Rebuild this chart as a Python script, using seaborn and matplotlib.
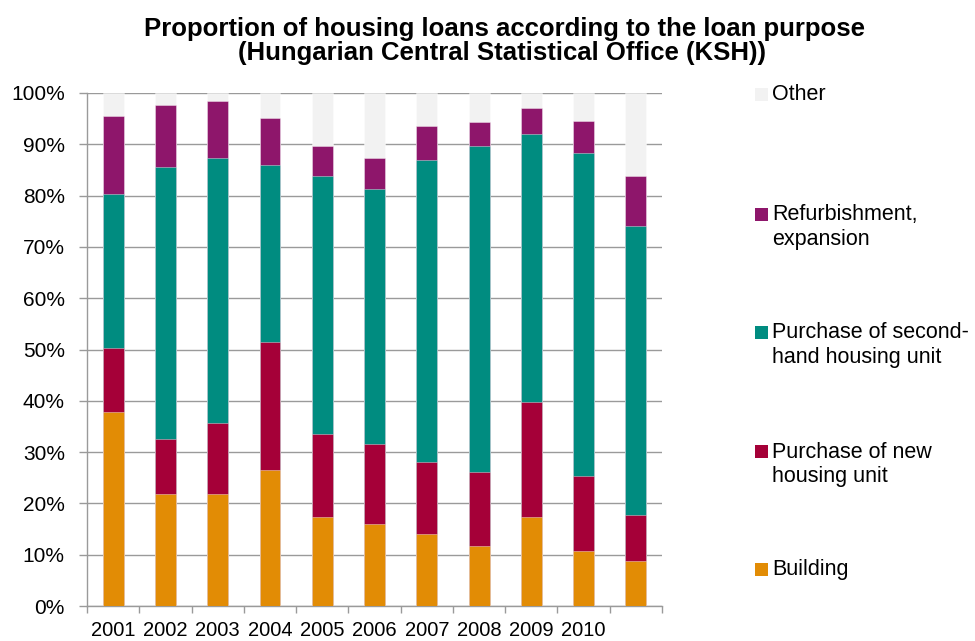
import matplotlib
matplotlib.use("Agg")
import matplotlib.pyplot as plt
from matplotlib.patches import Rectangle
from matplotlib.ticker import FuncFormatter, FixedLocator
import numpy as np
import pandas as pd
import seaborn as sns

# Share of housing loans by purpose (%), one value per bar
periods = ["2001", "2002", "2003", "2004", "2005", "2006",
           "2007", "2008", "2009", "2010", "2011"]
tick_labels = ["2001", "2002", "2003", "2004", "2005", "2006",
               "2007", "2008", "2009", "2010", ""]

building = [37.8, 21.8, 21.8, 26.6, 17.4, 16.0, 14.0, 11.6, 17.4, 10.8, 8.8]
new_unit = [12.5, 10.7, 13.8, 24.9, 16.2, 15.6, 14.1, 14.6, 22.3, 14.6, 9.0]
second_hand = [30.1, 53.0, 51.8, 34.5, 50.3, 49.6, 58.9, 63.4, 52.4, 62.9, 56.3]
refurbishment = [15.2, 12.1, 11.0, 9.1, 5.8, 6.2, 6.6, 4.8, 5.0, 6.3, 9.7]
other = [4.4, 2.4, 1.6, 4.9, 10.3, 12.6, 6.4, 5.6, 2.9, 5.4, 16.2]

series_names = ["Building", "Purchase of new\nhousing unit",
                "Purchase of second-\nhand housing unit",
                "Refurbishment,\nexpansion", "Other"]
series_values = [building, new_unit, second_hand, refurbishment, other]
series_colors = ["#E28C05", "#A50038", "#008C80", "#8E166B", "#F2F2F2"]

title_lines = ["Proportion of housing loans according to the loan purpose",
               "(Hungarian Central Statistical Office (KSH))"]

sns.set_theme(style="white")
plt.rcParams["font.family"] = ["Liberation Sans", "DejaVu Sans"]

W, H = 975, 641
fig = plt.figure(figsize=(W / 100, H / 100), dpi=100)
ax = fig.add_axes([87 / W, 1 - 606 / H, (662 - 87) / W, (606 - 93) / H])

# stacked bars: draw the cumulative totals from the top series down
df = pd.DataFrame({"period": periods})
cum = np.zeros(len(periods))
cums = []
for vals in series_values:
    cum = cum + np.array(vals)
    cums.append(cum.copy())

for name, color, top in reversed(list(zip(series_names, series_colors, cums))):
    df["top"] = top
    sns.barplot(data=df, x="period", y="top", order=periods, color=color,
                width=0.4, saturation=1, edgecolor=(1, 1, 1, 0.45),
                linewidth=0.6, ax=ax, zorder=3)

ax.set_xlim(-0.5, len(periods) - 0.5)
ax.set_ylim(0, 100)
ax.set_xlabel("")
ax.set_ylabel("")

# y axis: percent labels, gridlines every 10%
ax.set_yticks(np.arange(0, 101, 10))
ax.yaxis.set_major_formatter(FuncFormatter(lambda v, p: f"{v:.0f}%"))
ax.grid(axis="y", color="#9a9a9a", linewidth=1.0, zorder=0)
ax.set_axisbelow(True)
ax.tick_params(axis="y", which="major", left=True, length=6, width=1,
               color="#9a9a9a", labelsize=15, pad=10, labelcolor="#000000")

# x axis: labels centred on bars, tick marks between categories
ax.set_xticks(range(len(periods)))
ax.set_xticklabels(tick_labels)
ax.tick_params(axis="x", which="major", bottom=False, labelsize=14.5,
               pad=4.5, labelcolor="#000000")
ax.xaxis.set_minor_locator(FixedLocator(np.arange(-0.5, len(periods), 1.0)))
ax.tick_params(axis="x", which="minor", bottom=True, length=5, width=1,
               color="#9a9a9a")

for side in ["top", "right"]:
    ax.spines[side].set_visible(False)
for side in ["left", "bottom"]:
    ax.spines[side].set_visible(True)
    ax.spines[side].set_color("#9a9a9a")
    ax.spines[side].set_linewidth(1.0)

# two-line bold title, each line placed on its own baseline
for line, (xc, yb) in zip(title_lines, [(504.5, 36), (502, 60)]):
    fig.text(xc / W, 1 - yb / H, line, ha="center", va="baseline",
             fontsize=18.5, fontweight="bold", color="#000000")

# legend, top entry first
legend_base = [100.5, 220, 338.5, 457.5, 575]
for name, color, yb in zip(reversed(series_names), reversed(series_colors), legend_base):
    fig.patches.append(Rectangle((755 / W, 1 - (yb + 0.5) / H), 13 / W, 13 / H,
                                 transform=fig.transFigure, facecolor=color,
                                 edgecolor="none"))
    for i, line in enumerate(name.split("\n")):
        fig.text(772 / W, 1 - (yb + 24.5 * i) / H, line, ha="left",
                 va="baseline", fontsize=15.5, color="#000000")

fig.savefig("out.png", dpi=100)
